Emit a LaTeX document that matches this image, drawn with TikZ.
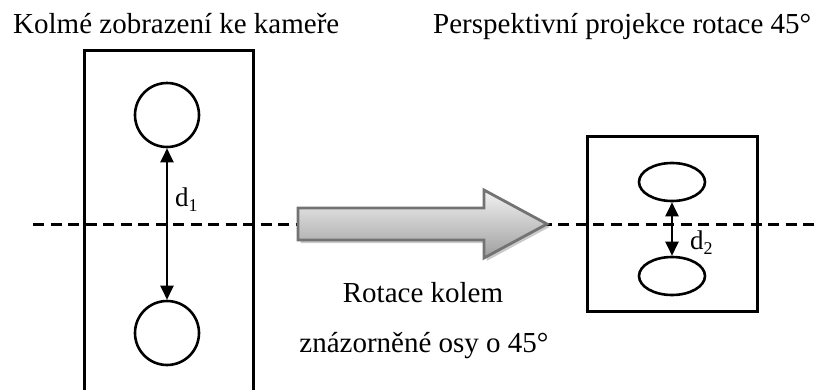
\documentclass[tikz,border=0pt]{standalone}
\usepackage{fontspec}
\setmainfont{Liberation Serif}
\usetikzlibrary{arrows.meta,shapes.geometric,shadows,calc}

\tikzset{
  frame/.style={line width=3pt},
  disc/.style={draw, circle, line width=2.6pt, minimum size=64pt, inner sep=0pt},
  oval/.style={draw, ellipse, line width=2.6pt, minimum width=66pt, minimum height=38pt, inner sep=0pt},
  dimarrow/.style={line width=2.3pt, {Triangle[length=14pt,width=13pt]}-{Triangle[length=14pt,width=13pt]}},
  axis/.style={line width=3pt, dash pattern=on 11pt off 6.5pt},
  title/.style={anchor=base west, inner sep=0pt, font=\fontsize{29}{34}\selectfont},
  caption/.style={anchor=base, inner sep=0pt, font=\fontsize{29}{34}\selectfont},
  dimlabel/.style={anchor=base west, inner sep=0pt, font=\fontsize{27}{30}\selectfont},
  bigarrow/.style={draw=black!55, line width=2.8pt, line join=miter,
    top color=black!5, bottom color=black!38,
    drop shadow={shadow xshift=2.5pt, shadow yshift=-3pt, opacity=0.35, fill=black!60}},
}

\newcommand{\sub}[1]{\raisebox{-5pt}{\fontsize{18}{18}\selectfont #1}}

\begin{document}
\begin{tikzpicture}[x=1pt, y=-1pt]
  \useasboundingbox (0,0) rectangle (815,389);

  % headings
  \node[title] (t1) at (13,33) {Kolmé zobrazení ke kameře};
  \node[title] (t2) at (433,33) {Perspektivní projekce rotace 45°};

  % rotation axis
  \coordinate (axL) at (33,224);
  \coordinate (axR) at (820,224);
  \draw[axis] (axL) -- (axR);

  % frontal view: frame open at the bottom
  \draw[frame] (84,400) -- (84,50) -- (253,50) -- (253,400);
  \node[disc] (c1) at (167,115) {};
  \node[disc] (c2) at (167,333) {};
  \draw[dimarrow] (c1.south) -- (c2.north);
  \node[dimlabel] (d1) at (175,206) {d\sub{1}};

  % transition arrow
  \path[bigarrow] (298,208) -- (484,208) -- (484,190) -- (547,224)
    -- (484,258) -- (484,240) -- (298,240) -- cycle;
  \node[caption] (r1) at (423,302) {Rotace kolem};
  \node[caption] (r2) at (424,352) {znázorněné osy o 45°};

  % projected view
  \draw[frame] (587,136) rectangle (757,311);
  \node[oval] (e1) at (672,182) {};
  \node[oval] (e2) at (672,276) {};
  \draw[dimarrow] (e1.south) -- (e2.north);
  \node[dimlabel] (d2) at (690,249) {d\sub{2}};
\end{tikzpicture}
\end{document}
